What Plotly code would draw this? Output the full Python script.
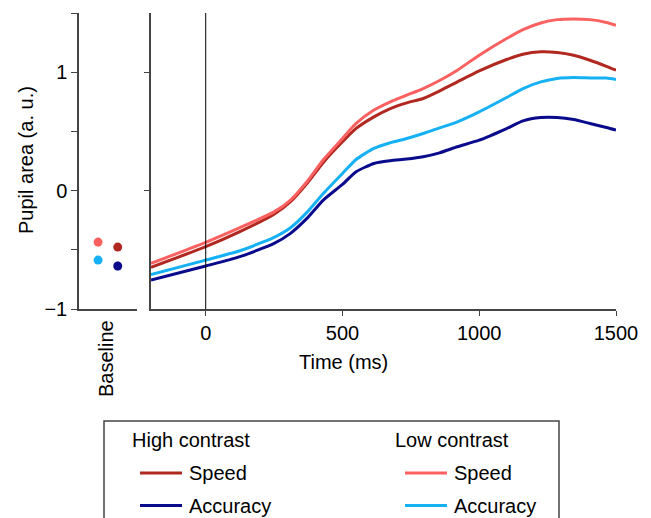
import plotly.graph_objects as go

# ---- data ----
time_ms = [-200, 0, 125, 250, 310, 370, 430, 500, 550, 615, 675, 735, 795, 855,
           920, 1000, 1100, 1160, 1225, 1285, 1345, 1405, 1465, 1500]
low_speed = [-0.615, -0.437, -0.313, -0.18, -0.08, 0.075, 0.26, 0.44, 0.567, 0.68, 0.75,
             0.806, 0.862, 0.93, 1.017, 1.143, 1.284, 1.36, 1.416, 1.444, 1.45, 1.444,
             1.42, 1.397]
high_speed = [-0.648, -0.474, -0.347, -0.2, -0.094, 0.06, 0.238, 0.412, 0.525, 0.623,
              0.693, 0.741, 0.778, 0.842, 0.918, 1.011, 1.107, 1.152, 1.172, 1.166,
              1.143, 1.101, 1.05, 1.017]
low_acc = [-0.708, -0.587, -0.508, -0.395, -0.314, -0.184, -0.024, 0.145, 0.263, 0.356,
           0.404, 0.44, 0.482, 0.53, 0.581, 0.665, 0.786, 0.862, 0.918, 0.947, 0.955,
           0.952, 0.95, 0.938]
high_acc = [-0.756, -0.637, -0.558, -0.446, -0.361, -0.235, -0.08, 0.052, 0.159, 0.229,
            0.252, 0.266, 0.286, 0.319, 0.37, 0.426, 0.524, 0.589, 0.617, 0.617, 0.6,
            0.567, 0.533, 0.511]

baseline_pos = [0, 1, 0, 1]
baseline_val = [-0.435, -0.477, -0.587, -0.637]
baseline_err = [0.035, 0.015, 0.015, 0.035]

group_titles = ["High contrast", "Low contrast"]
condition_names = ["Speed", "Accuracy"]

C_HS = "#b0281f"
C_HA = "#0a0a8c"
C_LS = "#fb6161"
C_LA = "#16b1f5"
baseline_col = [C_LS, C_HS, C_LA, C_HA]

FONT = "Liberation Sans, Arial, Helvetica, sans-serif"
AX = "#444444"

OFF = 8  # page body margin
W, H = 651 - OFF, 518 - OFF
ML, MR, MT, MB = 79 - OFF, 35, 13 - OFF, 209
PW, PH = W - ML - MR, H - MT - MB


def px(x):
    return (x - OFF - ML) / PW


def py(y):
    return (H - MB - (y - OFF)) / PH


fig = go.Figure()

# baseline dots
for p, v, e, c in zip(baseline_pos, baseline_val, baseline_err, baseline_col):
    fig.add_trace(go.Scatter(x=[p], y=[v], mode="markers", xaxis="x", yaxis="y",
                             marker=dict(color=c, size=9),
                             error_y=dict(type="data", array=[e], color=c, thickness=2.5, width=0),
                             showlegend=False))

series = [
    (high_speed, C_HS),
    (high_acc, C_HA),
    (low_speed, C_LS),
    (low_acc, C_LA),
]
for vals, col in series:
    fig.add_trace(go.Scatter(x=time_ms, y=vals, mode="lines",
                             line=dict(color=col, width=3, shape="spline", smoothing=0.6),
                             xaxis="x2", yaxis="y2", showlegend=False))

fig.add_shape(type="line", xref="x2", yref="y2", x0=0, x1=0, y0=-1, y1=1.5,
              line=dict(color="black", width=1))

# legend frame
fig.add_shape(type="rect", xref="paper", yref="paper", x0=px(104), x1=px(559),
              y0=py(421), y1=py(540), line=dict(color=AX, width=1.5))

annotations = [
    dict(text="Baseline", xref="paper", yref="paper", x=px(106), y=py(359),
         textangle=-90, showarrow=False, xanchor="center", yanchor="middle"),
    dict(text="Time (ms)", xref="paper", yref="paper", x=px(343), y=py(362),
         showarrow=False, xanchor="center", yanchor="middle"),
    dict(text="Pupil area (a. u.)", xref="paper", yref="paper", x=px(26), y=py(160),
         textangle=-90, showarrow=False, xanchor="center", yanchor="middle"),
]

# manual legend
legend_cols = [(130, 140, 187, [C_HS, C_HA]), (393, 405, 452, [C_LS, C_LA])]
for title, (tx, lx, txx, cols) in zip(group_titles, legend_cols):
    annotations.append(dict(text=title, xref="paper", yref="paper", x=px(tx), y=py(440),
                            showarrow=False, xanchor="left", yanchor="middle"))
    for name, col, yy in zip(condition_names, cols, [473, 505.5]):
        fig.add_shape(type="line", xref="paper", yref="paper", x0=px(lx), x1=px(lx + 42),
                      y0=py(yy), y1=py(yy), line=dict(color=col, width=3))
        annotations.append(dict(text=name, xref="paper", yref="paper", x=px(txx), y=py(yy),
                                showarrow=False, xanchor="left", yanchor="middle"))

fig.update_layout(
    width=W, height=H,
    margin=dict(l=ML, r=MR, t=MT, b=MB),
    plot_bgcolor="white", paper_bgcolor="white",
    showlegend=False,
    font=dict(family=FONT, size=20, color="black"),
    xaxis=dict(domain=[0, px(137)], range=[-0.97, 1.98], showticklabels=False, ticks="",
               showgrid=False, zeroline=False, showline=True, linecolor=AX, linewidth=1.5,
               automargin=False, fixedrange=True),
    yaxis=dict(range=[-1, 1.5], tickvals=[-1, -0.5, 0, 0.5, 1, 1.5],
               ticktext=["\u22121", "", "0", "", "1", ""], ticks="outside", ticklen=6,
               tickcolor=AX, showgrid=False, zeroline=False, showline=True,
               linecolor=AX, linewidth=1.5, anchor="x", automargin=False),
    xaxis2=dict(domain=[px(151), 1], range=[-200, 1500], tickvals=[0, 500, 1000, 1500],
                ticks="outside", ticklen=5, tickcolor=AX, showgrid=False, zeroline=False,
                showline=True, linecolor=AX, linewidth=1.5, anchor="y2", automargin=False),
    yaxis2=dict(range=[-1, 1.5], tickvals=[0, 1], showticklabels=False, ticks="outside",
                ticklen=5, tickcolor=AX, showgrid=False, zeroline=False, showline=True,
                linecolor=AX, linewidth=1.5, anchor="x2", automargin=False),
    annotations=annotations,
)

fig.write_html("out.html")
